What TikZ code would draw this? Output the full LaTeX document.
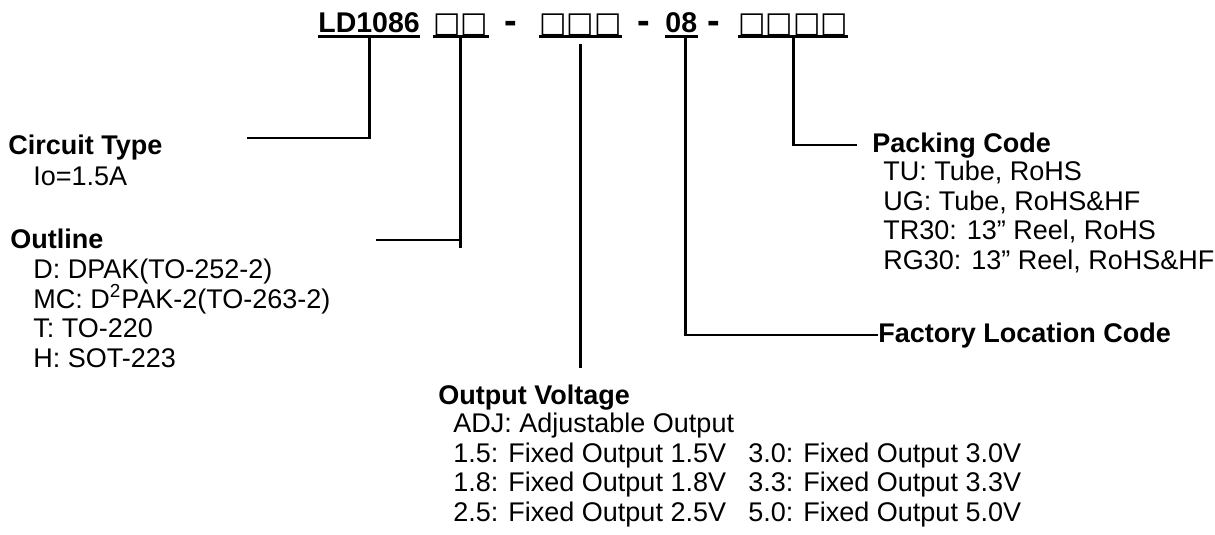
\documentclass[tikz,border=0pt]{standalone}
\usepackage{fontspec}
\setmainfont{Liberation Sans}
\newfontfamily\boxfont{DejaVu Sans}
\usetikzlibrary{positioning}
\tikzset{
  pn_head/.style={font=\fontsize{14.25}{15}\selectfont\bfseries,
    inner sep=0pt,text depth=1.75pt,anchor=base west},
  pn_box/.style={pn_head,font=\fontsize{14.5}{15}\boxfont},
  pn_dash/.style={font=\fontsize{19}{19}\selectfont\bfseries,
    inner sep=0pt,anchor=base},
  pn_title/.style={font=\fontsize{13.5}{14.5}\selectfont\bfseries,
    inner sep=0pt,anchor=base west},
  pn_list/.style={font=\fontsize{13.5}{14.75}\selectfont,
    inner sep=0pt,anchor=base west,align=left},
  uline/.style={line width=1.4pt},
  lead/.style={line width=1.4pt},
}

\begin{document}
\begin{tikzpicture}[x=0.5pt,y=-0.5pt]
  \useasboundingbox (0,0) rectangle (1215,535);
  % part number
  \node (ld) [pn_head] at (318,33) {LD1086};
  \node (ol) [pn_box]  at (433,33) {□□};
  \node (s1) [pn_dash] at (511,34) {-};
  \node (ov) [pn_box]  at (539,33) {□□□};
  \node (s2) [pn_dash] at (644,34) {-};
  \node (fl) [pn_head] at (665,33) {08};
  \node (s3) [pn_dash] at (714,34) {-};
  \node (pk) [pn_box]  at (738,33) {□□□□};
  \foreach \n in {ld,ol,ov,fl,pk}
    \draw[uline] (\n.south west) -- (\n.south east);

  % fields (multi-line lists are placed by their last line)
  \node (ct)  [pn_title] at (8,155) {Circuit Type};
  \node (ctl) [pn_list]  at (33,185) {Io=1.5A};
  \node (ot)  [pn_title] at (10,248) {Outline};
  \node (otl) [pn_list]  at (33,367)
    {D: DPAK(TO-252-2)\\
     MC: D\textsuperscript{2}PAK-2(TO-263-2)\\
     T: TO-220\\
     H: SOT-223};
  \node (vt)  [pn_title] at (438,404) {Output Voltage};
  \node (vtl) [pn_list]  at (453,521)
    {ADJ: Adjustable Output\\
     1.5: Fixed Output 1.5V\\
     1.8: Fixed Output 1.8V\\
     2.5: Fixed Output 2.5V};
  \node (vtr) [pn_list]  at (748,521)
    {3.0: Fixed Output 3.0V\\
     3.3: Fixed Output 3.3V\\
     5.0: Fixed Output 5.0V};
  \node (ft)  [pn_title] at (878,342) {Factory Location Code};
  \node (pt)  [pn_title] at (872,153) {Packing Code};
  \node (ptl) [pn_list]  at (883,269)
    {TU: Tube, RoHS\\
     UG: Tube, RoHS\&HF\\
     TR30: 13” Reel, RoHS\\
     RG30: 13” Reel, RoHS\&HF};

  % leads
  \coordinate (ctend) at (247,138);
  \coordinate (otend) at (376,240);
  \coordinate (vtend) at (580,368);
  \coordinate (ptend) at (857,145);
  \draw[lead] (ld.south) |- (ctend);
  \draw[lead] (ol.south) -- ++(0,211) (otend) -- (otend -| ol.south);
  \draw[lead] (ov.south) ++(0,7) -- (ov.south |- vtend);
  \draw[lead] ([xshift=2pt]fl.south) |- (ft.west);
  \draw[lead] (pk.south) |- (ptend);
\end{tikzpicture}
\end{document}
